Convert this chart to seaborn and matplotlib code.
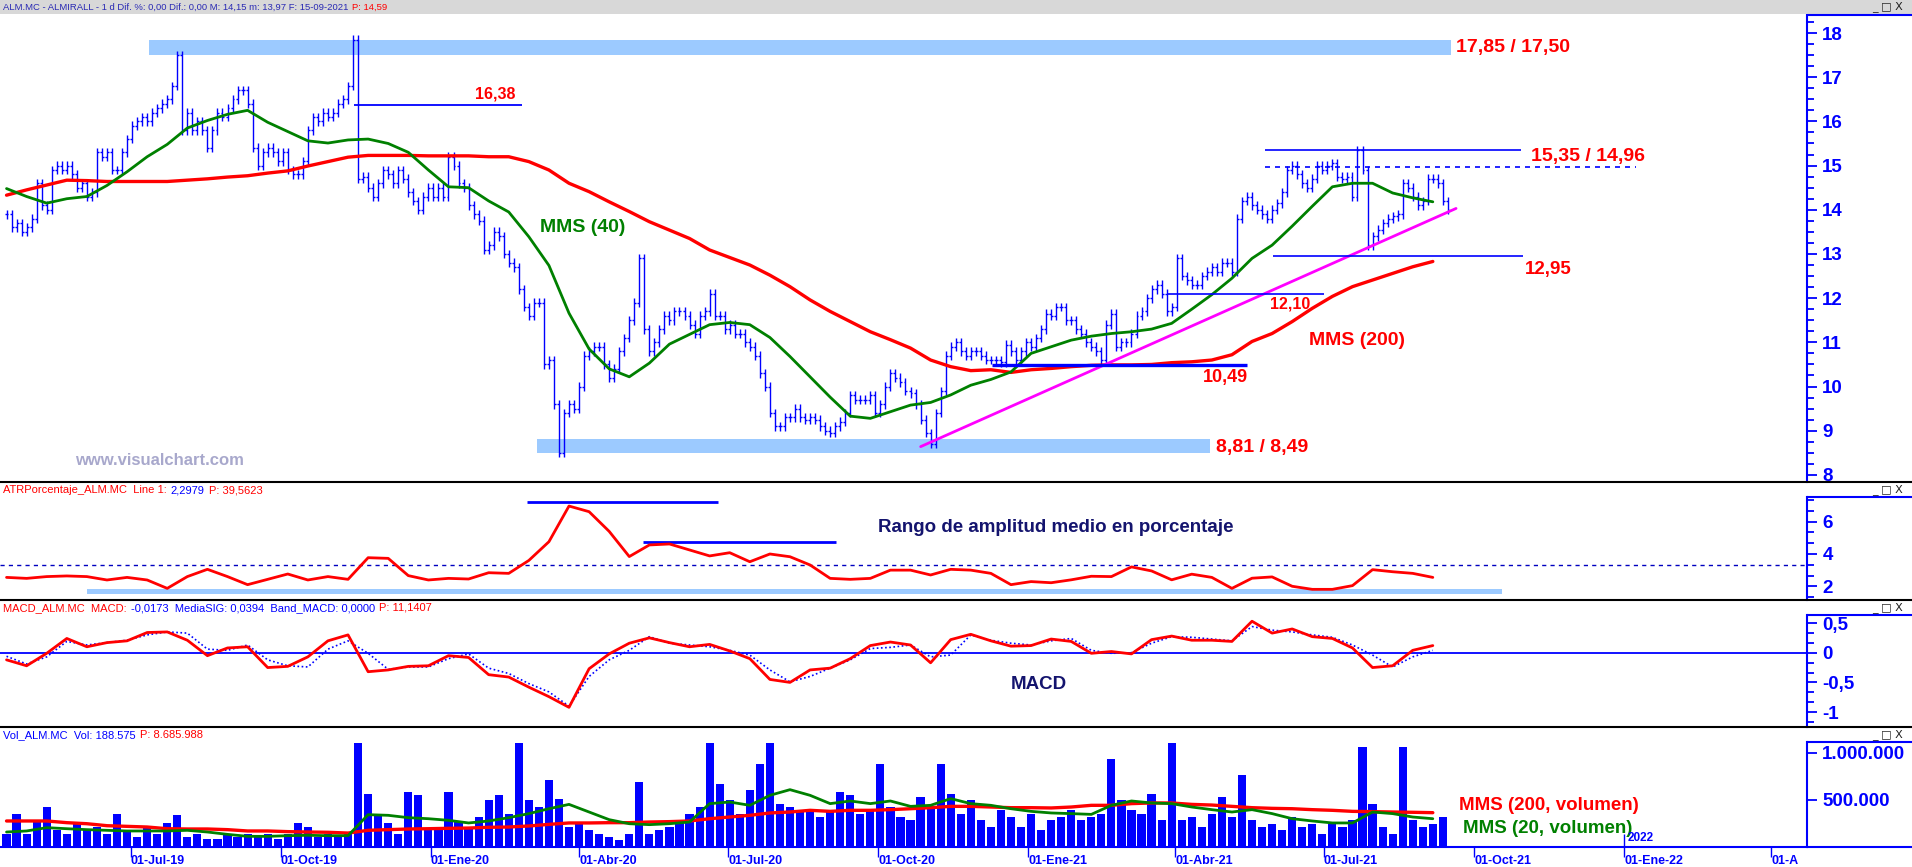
import numpy as np
import pandas as pd
import seaborn as sns
import matplotlib.pyplot as plt
from matplotlib.ticker import MultipleLocator
from matplotlib.lines import Line2D
from matplotlib.patches import Rectangle

sns.set_style("white")
plt.rcParams['font.family'] = ['Liberation Sans', 'DejaVu Sans']

W, H = 1912, 867
BLUE = '#0000ff'
RED = '#ff0000'
GREEN = '#008000'
NAVY = '#14146e'
BAND = '#9ccaff'

# ---- price (closes sampled every ~3 sessions), ALM.MC
close = [13.9, 13.6, 13.7, 13.5, 13.6, 13.8, 14.6, 14.1, 14.0, 14.9,
         15.0, 14.9, 15.0, 14.8, 14.5, 14.6, 14.3, 14.4, 15.3, 15.2,
         15.3, 14.9, 14.9, 15.3, 15.6, 15.9, 16.0, 16.1, 16.0, 16.2,
         16.3, 16.4, 16.5, 16.8, 17.5, 15.8, 16.2, 15.8, 16.0, 15.8,
         15.4, 15.8, 16.2, 16.1, 16.3, 16.5, 16.7, 16.7, 16.4, 15.4,
         15.0, 15.3, 15.4, 15.3, 15.1, 15.3, 14.9, 14.8, 14.8, 15.1,
         15.8, 16.1, 16.0, 16.2, 16.1, 16.2, 16.4, 16.5, 16.8, 17.85,
         14.7, 14.75, 14.5, 14.3, 14.6, 14.9, 14.8, 14.6, 14.9, 14.7,
         14.4, 14.2, 14.0, 14.3, 14.5, 14.3, 14.5, 14.3, 15.2, 15.0,
         14.6, 14.5, 14.1, 13.9, 13.75, 13.1, 13.2, 13.5, 13.4,
         13.0, 12.8, 12.7, 12.2, 11.8, 11.6, 11.9, 11.9, 10.5, 10.6,
         9.6, 8.5, 9.4, 9.6, 9.5, 10.0, 10.7, 10.8, 10.9, 10.9,
         10.5, 10.2, 10.4, 10.8, 11.1, 11.5, 11.9, 12.9, 11.3, 10.8,
         11.0, 11.3, 11.6, 11.5, 11.7, 11.7, 11.6, 11.4, 11.2, 11.6,
         11.7, 12.1, 11.6, 11.6, 11.3, 11.4, 11.2, 11.2, 11.0, 10.9,
         10.7, 10.3, 10.0, 9.4, 9.1, 9.1, 9.3, 9.3, 9.5, 9.3,
         9.25, 9.3, 9.25, 9.1, 9.0, 8.95, 9.1, 9.2, 9.4, 9.8,
         9.7, 9.7, 9.7, 9.8, 9.4, 9.6, 10.0, 10.3, 10.2, 10.1,
         9.9, 9.85, 9.6, 9.25, 8.95, 8.7, 9.4, 9.9, 10.7, 10.9,
         11.0, 10.8, 10.7, 10.8, 10.8, 10.7,
         10.6, 10.6, 10.6, 10.55, 10.95, 10.8, 10.6, 10.8, 11.0, 10.9,
         11.1, 11.3, 11.65, 11.6, 11.8, 11.8, 11.5, 11.5, 11.3, 11.2,
         11.0, 10.9, 10.8, 10.6, 11.4, 11.65, 10.9, 11.0, 11.0, 11.2,
         11.6, 11.7, 12.0, 12.2, 12.3, 12.1, 11.7, 11.8, 12.9, 12.5,
         12.4, 12.3, 12.3, 12.5, 12.6, 12.7, 12.6, 12.8, 12.8, 12.6,
         13.8, 14.2, 14.3, 14.1, 14.0, 13.9, 13.8, 14.0, 14.15, 14.4,
         14.9, 15.0, 14.8, 14.6, 14.5, 14.7, 15.0, 14.9, 15.0, 15.05,
         14.75, 14.7, 14.75, 14.3, 15.35, 14.9, 13.2, 13.4, 13.55, 13.7,
         13.8, 13.85, 13.9, 14.6, 14.5, 14.3, 14.1, 14.2, 14.7, 14.7,
         14.6, 14.2, 14.0]

# moving averages / indicators, one value every 4th price sample
ma40 = [14.48, 14.3, 14.15, 14.25, 14.3, 14.55, 14.86, 15.2, 15.48, 15.85,
        16.02, 16.16, 16.25, 15.98, 15.77, 15.56, 15.51, 15.58, 15.6, 15.5,
        15.3, 14.9, 14.52, 14.5, 14.2,
        13.95, 13.39, 12.74, 11.66, 10.85, 10.4, 10.22, 10.53, 10.96, 11.18,
        11.4, 11.45, 11.4, 11.11, 10.68, 10.22, 9.76, 9.33, 9.28, 9.43,
        9.58, 9.64, 9.81, 10.03,
        10.16, 10.33, 10.75, 10.9, 11.05, 11.14, 11.2, 11.24, 11.3, 11.43,
        11.75, 12.08, 12.45, 12.9, 13.2, 13.63, 14.08, 14.52, 14.6, 14.6,
        14.38, 14.27, 14.18]
ma200 = [14.33, 14.45, 14.56, 14.67, 14.66, 14.64, 14.64, 14.64, 14.64, 14.67,
         14.7, 14.74, 14.77, 14.83, 14.88, 14.99, 15.09, 15.19, 15.23, 15.23,
         15.23, 15.22, 15.22, 15.22, 15.2,
         15.2, 15.09, 14.9, 14.6, 14.41, 14.18, 13.96, 13.73, 13.54, 13.35,
         13.09, 12.92, 12.75, 12.52, 12.26, 11.96, 11.7, 11.47, 11.24, 11.06,
         10.87, 10.6, 10.45, 10.36,
         10.38, 10.32, 10.38, 10.41, 10.45, 10.48, 10.49, 10.49, 10.5, 10.54,
         10.56, 10.6, 10.72, 11.02, 11.2, 11.47, 11.77, 12.04, 12.26, 12.41,
         12.56, 12.71, 12.83]
atr = [2.55, 2.49, 2.6, 2.64, 2.6, 2.39, 2.55, 2.39, 1.87, 2.6,
       3.05, 2.6, 2.1, 2.43, 2.76, 2.39, 2.6, 2.43, 3.77, 3.73,
       2.66, 2.39, 2.49, 2.45, 2.84,
       2.8, 3.6, 4.76, 6.97, 6.62, 5.4, 3.84, 4.56, 4.62, 4.25,
       3.88, 4.08, 3.52, 4.0, 3.83, 3.32, 2.49, 2.43, 2.49, 3.0,
       3.0, 2.7, 3.05, 3.0,
       2.8, 2.1, 2.29, 2.22, 2.4, 2.62, 2.6, 3.2, 2.95, 2.4,
       2.75, 2.55, 1.87, 2.5, 2.58, 2.0, 1.81, 1.81, 2.04, 3.03,
       2.9, 2.8, 2.55]
macd = [-0.12, -0.22, -0.01, 0.24, 0.1, 0.17, 0.2, 0.34, 0.35, 0.21,
        -0.05, 0.08, 0.1, -0.25, -0.23, -0.07, 0.2, 0.3, -0.32, -0.29,
        -0.23, -0.22, -0.05, -0.08, -0.37,
        -0.41, -0.58, -0.74, -0.92, -0.27, -0.02, 0.16, 0.25, 0.17, 0.1,
        0.14, 0.03, -0.1, -0.45, -0.5, -0.29, -0.26, -0.1, 0.12, 0.18,
        0.13, -0.17, 0.22, 0.31,
        0.2, 0.11, 0.12, 0.23, 0.19, -0.01, 0.02, -0.02, 0.22, 0.28,
        0.21, 0.21, 0.19, 0.53, 0.33, 0.4, 0.27, 0.24, 0.08, -0.25,
        -0.22, 0.04, 0.12]
signal = [-0.06, -0.19, -0.07, 0.19, 0.13, 0.17, 0.21, 0.3, 0.35, 0.33,
          0.06, 0.04, 0.13, -0.12, -0.22, -0.24, 0.06, 0.2, -0.01, -0.28,
          -0.24, -0.24, -0.1, -0.02, -0.26,
          -0.35, -0.52, -0.66, -0.9, -0.4, -0.12, 0.04, 0.27, 0.16, 0.13,
          0.1, 0.04, -0.04, -0.29, -0.49, -0.4, -0.26, -0.12, 0.07, 0.09,
          0.13, -0.07, -0.04, 0.3,
          0.21, 0.16, 0.13, 0.2, 0.24, 0.04, -0.01, 0.0, 0.16, 0.27,
          0.26, 0.23, 0.2, 0.44, 0.38, 0.35, 0.3, 0.26, 0.13, -0.04,
          -0.24, -0.07, 0.04]
vol_ma200 = [276, 276, 276, 258, 247, 226, 219, 212, 194, 191,
             191, 184, 170, 170, 163, 159, 156, 148, 177, 184,
             191, 194, 198, 201, 209,
             212, 223, 240, 255, 255, 258, 258, 265, 269, 276,
             300, 318, 336, 361, 371, 389, 378, 389, 389, 396,
             406, 417, 431, 431,
             424, 417, 417, 414, 424, 442, 442, 460, 467, 467,
             452, 445, 431, 417, 410, 406, 396, 389, 378, 375,
             371, 368, 364]
vol_ma20 = [159, 170, 205, 194, 184, 177, 170, 170, 170, 177,
            159, 134, 113, 113, 120, 124, 120, 120, 343, 336,
            311, 300, 283, 255, 276,
            311, 354, 406, 452, 371, 290, 247, 237, 247, 265,
            460, 477, 442, 548, 608, 548, 460, 488, 460, 488,
            431, 442, 513, 460,
            442, 406, 378, 361, 354, 346, 442, 488, 467, 460,
            424, 396, 371, 396, 354, 300, 276, 255, 255, 371,
            354, 318, 300]

# volume in thousands, one bar every 2nd price sample
volume = [140, 350, 140, 280, 420, 180, 140, 265, 180, 210,
          140, 350, 180, 105, 210, 140, 250, 335, 105, 140,
          90, 90, 140, 105, 140, 105, 140, 90, 140, 255,
          210, 105, 140, 125, 140, 1100, 565, 350, 250, 140,
          585, 550, 195, 180, 585, 280, 210, 320, 495, 550,
          350, 1100, 495, 424, 707, 512, 212, 247, 177, 141,
          106, 71, 141, 690, 141, 177, 212, 265, 350, 424,
          1100, 672, 495, 350, 600, 884, 1100, 460, 424, 389,
          389, 318, 389, 583, 548, 354, 389, 884, 424, 318,
          283, 530, 424, 884, 565, 354, 495, 283,
          212, 389, 318, 212, 354, 177, 283, 318, 389, 283,
          318, 354, 937, 495, 389, 354, 565, 283, 1100, 283,
          318, 212, 354, 530, 318, 760, 283, 212, 247, 177,
          318, 212, 247, 141, 247, 212, 283, 1060, 460, 212,
          141, 1060, 283, 212, 247, 318]

quarters = ['2019-07-01', '2019-10-01', '2020-01-01', '2020-04-01', '2020-07-01', '2020-10-01',
            '2021-01-01', '2021-04-01', '2021-07-01', '2021-10-01', '2022-01-01', '2022-04-01']
quarter_labels = ['01-Jul-19', '01-Oct-19', '01-Ene-20', '01-Abr-20', '01-Jul-20', '01-Oct-20',
                  '01-Ene-21', '01-Abr-21', '01-Jul-21', '01-Oct-21', '01-Ene-22', '01-A']

dates = pd.date_range("2019-04-16", "2021-09-15", periods=len(close))
d4 = dates[::4]
d2 = dates[::2]
T = pd.Timestamp

fig = plt.figure(figsize=(W / 100, H / 100), dpi=100)


def panel(top, bottom):
    return fig.add_axes([0, 1 - bottom / H, 1807 / W, (bottom - top) / H])


ax_p = panel(14, 482)
ax_a = panel(497, 600)
ax_m = panel(615, 727)
ax_v = panel(742, 847)
axes = [ax_p, ax_a, ax_m, ax_v]

# ---- price panel
ax_p.fill_between([T('2019-07-12'), T('2021-09-17')], 17.50, 17.85, color=BAND, lw=0)
ax_p.fill_between([T('2020-03-06'), T('2021-04-22')], 8.49, 8.81, color=BAND, lw=0)

c = np.array(close)
opens = np.r_[c[0], c[:-1]]
lo = np.minimum(opens, c)
hi = np.maximum(opens, c)
tick = pd.Timedelta(days=1.2)
ax_p.vlines(dates, lo - 0.1, hi + 0.1, color=BLUE, lw=1)
ax_p.hlines(opens, dates - tick, dates, color=BLUE, lw=1)
ax_p.hlines(c, dates, dates + tick, color=BLUE, lw=1)

sns.lineplot(x=d4, y=ma200, ax=ax_p, color=RED, linewidth=2.4, legend=False)
sns.lineplot(x=d4, y=ma40, ax=ax_p, color=GREEN, linewidth=2.0, legend=False)

ax_p.plot([T('2020-10-27'), T('2021-09-20')], [8.64, 14.03], color='#ff00ff', lw=2)
ax_p.hlines(16.38, T('2019-11-15'), T('2020-02-26'), color=BLUE, lw=1.3)
ax_p.hlines(10.49, T('2020-12-10'), T('2021-05-15'), color=BLUE, lw=2.4)
ax_p.hlines(12.10, T('2021-03-27'), T('2021-07-01'), color=BLUE, lw=1.2)
ax_p.hlines(15.35, T('2021-05-26'), T('2021-10-30'), color=BLUE, lw=1.2)
ax_p.hlines(14.96, T('2021-05-26'), T('2022-01-08'), color=BLUE, lw=1.2, linestyles=(0, (3, 3)))
ax_p.hlines(12.95, T('2021-05-31'), T('2021-10-31'), color=BLUE, lw=1.2)

ann = dict(fontweight='bold', va='center', ha='left')
ax_p.text(T('2021-09-20'), 17.68, '17,85 / 17,50', color=RED, fontsize=14, **ann)
ax_p.text(T('2020-02-22'), 16.62, '16,38', color=RED, fontsize=11.5, fontweight='bold', va='center', ha='right')
ax_p.text(T('2020-03-08'), 13.59, 'MMS (40)', color=GREEN, fontsize=14, **ann)
ax_p.text(T('2021-04-26'), 8.61, '8,81 / 8,49', color=RED, fontsize=14, **ann)
ax_p.text(T('2021-04-18'), 10.2, '10,49', color=RED, fontsize=13, **ann)
ax_p.text(T('2021-05-29'), 11.87, '12,10', color=RED, fontsize=11.5, **ann)
ax_p.text(T('2021-06-22'), 11.05, 'MMS (200)', color=RED, fontsize=14, **ann)
ax_p.text(T('2021-11-05'), 15.2, '15,35 / 14,96', color=RED, fontsize=14, **ann)
ax_p.text(T('2021-11-01'), 12.64, '12,95', color=RED, fontsize=13.5, **ann)
ax_p.text(T('2019-05-28'), 8.33, 'www.visualchart.com', color='#a8a8cc', fontsize=12, **ann)

# ---- ATR % panel
ax_a.fill_between([T('2019-06-04'), T('2021-10-18')], 1.52, 1.86, color=BAND, lw=0)
ax_a.axhline(3.3, color='#0000c0', lw=1, ls=(0, (3, 3)))
ax_a.hlines(7.24, T('2020-02-29'), T('2020-06-25'), color=BLUE, lw=2)
ax_a.hlines(4.76, T('2020-05-10'), T('2020-09-05'), color=BLUE, lw=2)
sns.lineplot(x=d4, y=atr, ax=ax_a, color=RED, linewidth=2, legend=False)
ax_a.text(T('2020-10-01'), 5.63, 'Rango de amplitud medio en porcentaje', color=NAVY, fontsize=13.5, **ann)

# ---- MACD panel
ax_m.axhline(0, color=BLUE, lw=1.3)
sns.lineplot(x=d4, y=signal, ax=ax_m, color=BLUE, linewidth=1.2, linestyle=(0, (1, 1.5)), legend=False)
sns.lineplot(x=d4, y=macd, ax=ax_m, color=RED, linewidth=2, legend=False)
ax_m.text(T('2020-12-21'), -0.53, 'MACD', color=NAVY, fontsize=13.5, **ann)

# ---- volume panel
ax_v.bar(d2, volume, width=5.0, color=BLUE, lw=0)
sns.lineplot(x=d4, y=vol_ma200, ax=ax_v, color=RED, linewidth=2.4, legend=False)
sns.lineplot(x=d4, y=vol_ma20, ax=ax_v, color=GREEN, linewidth=2.0, legend=False)
ax_v.text(T('2021-09-22'), 435, 'MMS (200, volumen)', color=RED, fontsize=13.5, **ann)
ax_v.text(T('2021-09-24'), 200, 'MMS (20, volumen)', color=GREEN, fontsize=13.5, **ann)
ax_v.vlines(T('2022-01-01'), 0, 140, color=BLUE, lw=1)
ax_v.text(T('2022-01-03'), 95, '2022', color=BLUE, fontsize=8.5, fontweight='bold', va='center', ha='left')

# ---- axes cosmetics
xlim = (T('2019-04-12'), T('2022-04-23'))
ylims = [(7.84, 18.43), (1.15, 7.53), (-1.251, 0.635), (0, 1113.5)]
for ax, yl in zip(axes, ylims):
    ax.set_xlim(xlim)
    ax.set_ylim(yl)
    ax.set_xlabel('')
    ax.set_ylabel('')
    ax.yaxis.tick_right()
    for s in ['top', 'left', 'bottom']:
        ax.spines[s].set_visible(False)
    ax.spines['right'].set_color(BLUE)
    ax.spines['right'].set_linewidth(1.5)
    ax.tick_params(axis='y', which='both', colors=BLUE, direction='out', width=1.3, pad=4)
    ax.tick_params(axis='y', which='major', length=7)
    ax.tick_params(axis='y', which='minor', length=5)
    ax.tick_params(axis='x', which='both', bottom=False, labelbottom=False)

tick_font = dict(fontsize=13.5, fontweight='bold', color=BLUE)
ax_p.set_yticks(range(8, 19), labels=[str(v) for v in range(8, 19)], **tick_font)
ax_p.yaxis.set_minor_locator(MultipleLocator(0.25))
ax_a.set_yticks([2, 4, 6], labels=['2', '4', '6'], **tick_font)
ax_a.yaxis.set_minor_locator(MultipleLocator(2 / 3))
ax_m.set_yticks([-1, -0.5, 0, 0.5], labels=['-1', '-0,5', '0', '0,5'], **tick_font)
ax_m.yaxis.set_minor_locator(MultipleLocator(1 / 6))
ax_v.set_yticks([500, 1000], labels=['500.000', '1.000.000'], **tick_font)

ax_v.spines['bottom'].set_visible(True)
ax_v.spines['bottom'].set_color(BLUE)
ax_v.spines['bottom'].set_linewidth(1.5)
ax_v.set_xticks(pd.to_datetime(quarters), labels=quarter_labels, fontsize=9, fontweight='bold',
                color=BLUE, ha='left')
ax_v.tick_params(axis='x', which='major', bottom=True, labelbottom=True, length=7,
                 width=1, color=BLUE, direction='out', pad=-1)

# ---- frame: header strip, separators, right axis borders
fig.add_artist(Rectangle((0, 1 - 14 / H), 1, 14 / H, transform=fig.transFigure,
                         facecolor='#d8d8d8', edgecolor='none'))
for y in [482, 600, 727]:
    fig.add_artist(Line2D([0, 1], [1 - y / H] * 2, color='black', lw=1.5))
for y in [15, 497, 615, 742]:
    fig.add_artist(Line2D([1807 / W, 1], [1 - y / H] * 2, color=BLUE, lw=1.5))
fig.add_artist(Line2D([1807 / W, 1], [1 - 847 / H] * 2, color=BLUE, lw=1.5))
for y in [7, 490, 608, 735]:
    fig.text(1872 / W, 1 - y / H, '_ \u25a1 X', fontsize=8, color='#202020', va='center',
             ha='left', family=['DejaVu Sans'])

renderer = fig.canvas.get_renderer()


def header(y_px, parts, size):
    x = 3
    for s, col in parts:
        t = fig.text(x / W, 1 - y_px / H, s, color=col, fontsize=size, va='center', ha='left')
        x = t.get_window_extent(renderer=renderer).x1 + 4


HB = '#2a2ab4'
header(7, [('ALM.MC - ALMIRALL - 1 d Dif. %: 0,00 Dif.: 0,00 M: 14,15 m: 13,97 F: 15-09-2021', HB),
           ('P: 14,59', RED)], 6.8)
header(490, [('ATRPorcentaje_ALM.MC  Line 1:', RED), ('2,2979', BLUE), ('P: 39,5623', RED)], 8)
header(608, [('MACD_ALM.MC  MACD:', RED), ('-0,0173  MediaSIG: 0,0394  Band_MACD: 0,0000', BLUE),
             ('P: 11,1407', RED)], 8)
header(735, [('Vol_ALM.MC  Vol: 188.575', BLUE), ('P: 8.685.988', RED)], 8)

fig.savefig('out.png', dpi=100, facecolor='white')
